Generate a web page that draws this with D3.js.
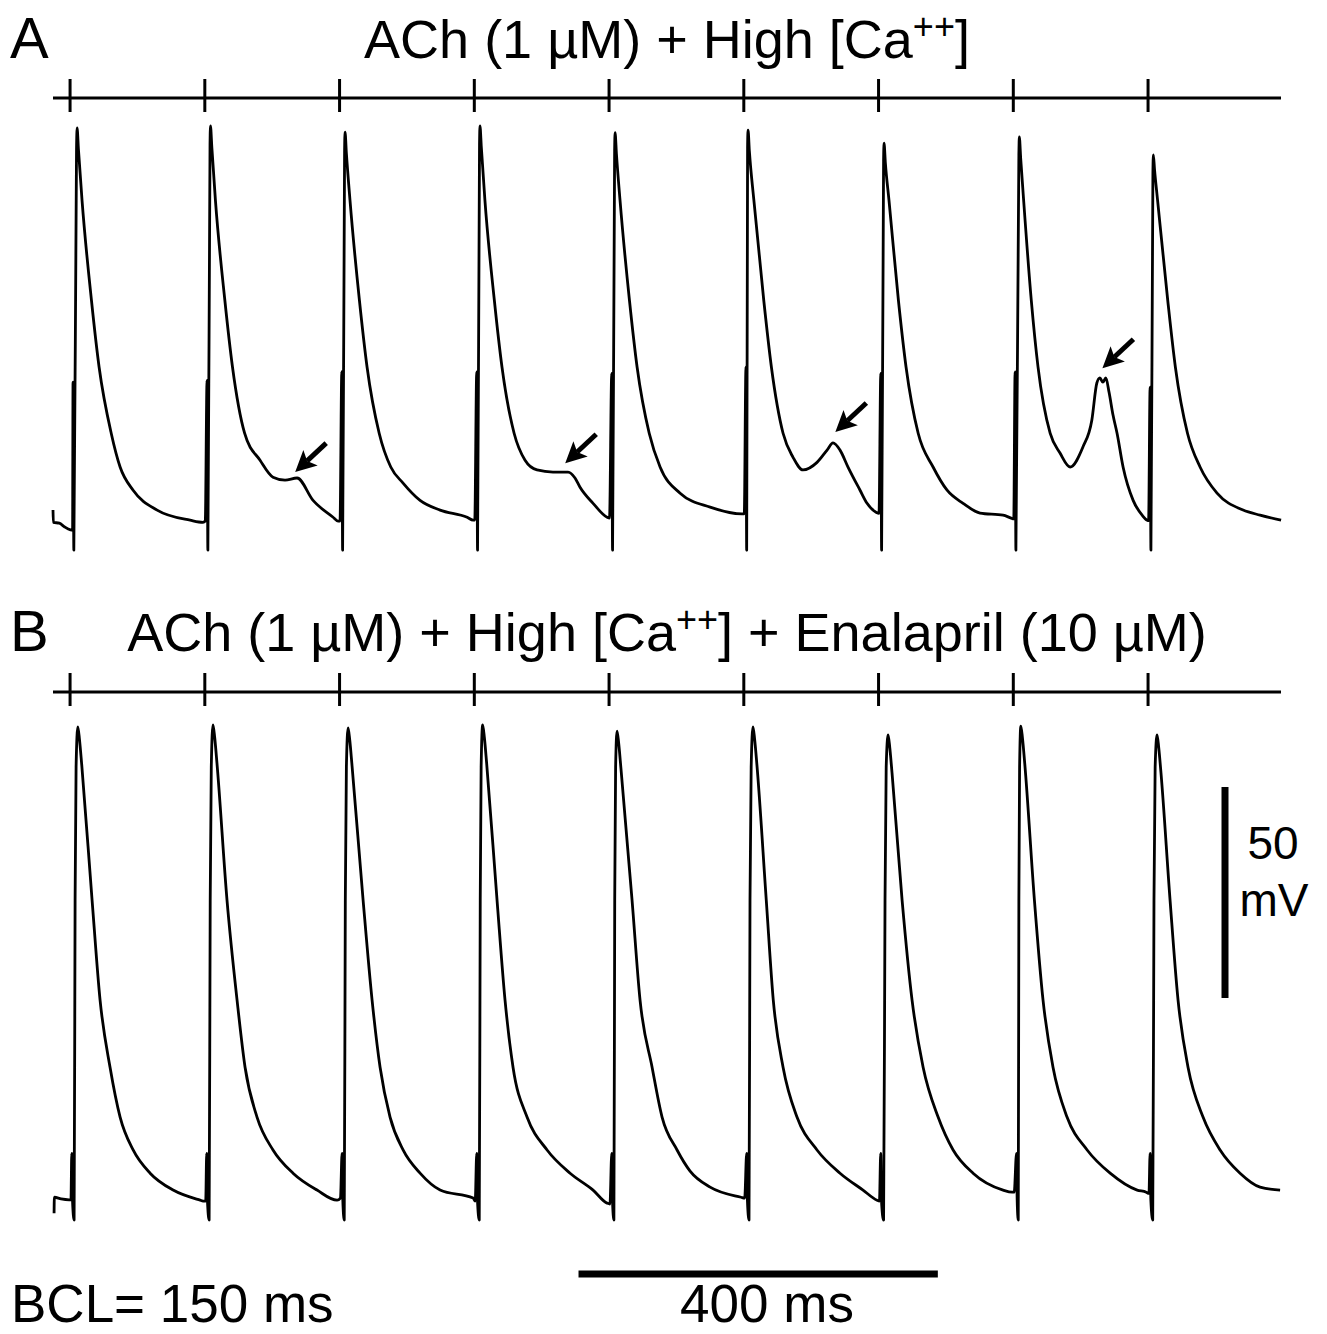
<!DOCTYPE html>
<html>
<head>
<meta charset="utf-8">
<script src="https://cdn.jsdelivr.net/npm/d3@7"></script>
<style>
  html, body { margin: 0; padding: 0; background: #fff; }
  svg { display: block; }
  text { font-family: "Liberation Sans", Arial, Helvetica, sans-serif; fill: #000; }
</style>
</head>
<body>
<svg id="chart" width="1327" height="1334"></svg>
<script>
// ---------------- DATA ----------------
// stimulus times (ms), BCL = 150 ms
const stimTimes = [0, 150, 300, 450, 600, 750, 900, 1050, 1200];
const traceStart = -19, traceEnd = 1348;

// Panel A (ACh + high Ca): [ms after stimulus, mV]
const preA = [[-19,-77.7],[-18.6,-80.6],[-12,-80.8],[-6,-81.7],[0.5,-82.4]];
const beatsA = [
  [[2.8,-82.5],[3.3,-47.4],[4.2,-87.2],[7.2,8],[7.8,12.8],[9.3,7.8],[13.3,-4.3],[23.8,-28],[32.3,-43.8],[45.8,-59.5],[55.7,-67.5],[70.2,-73],[96.9,-77.7],[133.6,-80.1],[148,-80.6]],
  [[0.5,-80.3],[2.5,-47],[3.4,-87.2],[5.8,9],[6.3,13.3],[7.8,8.3],[11.8,-4.3],[22.3,-28],[30.8,-43.8],[44.3,-59.5],[61.5,-65.9],[75.9,-69.9],[89.3,-70.6],[102.7,-70.1],[120.5,-75.4],[142.8,-79.4],[148.3,-80.3]],
  [[0.5,-80.3],[2.5,-44.9],[3.4,-87.2],[5.6,7.5],[6.1,11.8],[7.6,6.8],[11.6,-4.3],[22.1,-28],[30.6,-43.8],[44.1,-59.5],[57,-67.5],[70.7,-71.3],[89.6,-75.4],[111.9,-77.7],[142,-79.4],[148.7,-80.1]],
  [[0.5,-80.1],[2.7,-45],[3.6,-87.2],[5.8,9],[6.3,13.3],[7.8,8.3],[11.8,-4.3],[22.3,-28],[30.8,-43.8],[44.3,-59.5],[56.5,-65.9],[69.8,-68.2],[87.6,-68.7],[104.4,-68.7],[112.1,-70.1],[117.7,-72.3],[132.2,-76.1],[147.8,-79.4]],
  [[0.5,-79.6],[3.0,-45.3],[3.9,-87.2],[6.2,7.5],[6.7,11.7],[8.2,6.7],[12.2,-4.3],[22.7,-28],[31.2,-43.8],[44.7,-59.5],[56.8,-67.5],[79.1,-73.7],[112.5,-77],[148,-78.6]],
  [[0.5,-78.6],[2.4,-43.8],[3.2,-87.2],[4.2,8],[4.7,12.3],[6.2,7.3],[11.2,-4.3],[22.2,-28],[30.7,-43.8],[43.7,-59.5],[54.8,-65.2],[65.9,-68.2],[81.5,-66.4],[92.7,-63.5],[99.3,-61.8],[107.1,-63.5],[116,-67.5],[129.4,-73],[137.2,-76.1],[147.2,-78.2]],
  [[0.5,-78.5],[2.5,-45.3],[3.4,-87.2],[5.6,5],[6.1,9.2],[7.6,4.5],[11.6,-4.3],[22.1,-28],[30.6,-43.8],[44.1,-59.5],[60.7,-67.5],[76.3,-73],[94.1,-76.1],[113,-78.4],[138.6,-78.9],[147.6,-79.6]],
  [[0.5,-79.8],[2.0,-45],[2.9,-87.2],[6.2,6.5],[6.7,10.7],[8.2,5.7],[11.5,-4.3],[20,-28],[27.5,-43.8],[41,-59.5],[52,-64.2],[63.2,-67.5],[77.4,-62.8],[87.4,-56.4],[93,-47.6],[96.4,-46.4],[99.7,-47.4],[103,-46.4],[106.6,-49.8],[111,-55.2],[115.5,-59.5],[122.2,-67.5],[133.4,-75.4],[143.4,-78.9],[149,-80.1]],
  [[0.6,-80.2],[2.3,-48.6],[3.2,-87.2],[5.4,2],[5.9,6.4],[7.2,3.0],[10.6,-4.3],[21.9,-28],[30.4,-43.8],[43.9,-59.5],[57.9,-67.5],[76.8,-73.7],[105.8,-77.7],[124.7,-78.9],[148.1,-80.1]]
];
// arrow tips marking delayed afterdepolarizations in A: [ms, mV]
const dadArrows = [[250.6,-68.7],[551.2,-66.6],[851.9,-59.2],[1149.2,-44.1]];

// Panel B (ACh + high Ca + enalapril): [ms after stimulus, mV]
const preB = [[-17.8,-83.2],[-17.5,-79.4],[-10,-79.8],[-1,-80]];
const beatsB = [
  [[1,-80],[1.9,-69],[2.7,-80],[4.5,-84.8],[5.6,-9],[6.7,22.5],[8.6,32],[10.5,29],[13,23],[24.5,-9],[33.4,-32.7],[44.5,-48.6],[55.7,-60.4],[70.2,-68.2],[89.1,-73.7],[114.7,-77.7],[144.8,-80.1],[148,-80.3]],
  [[1,-80.3],[2.1,-69],[2.9,-80],[4.8,-84.8],[6,-9],[7.2,22.5],[9.1,32.5],[11,29.5],[13.5,23.5],[24.7,-9],[35.9,-32.7],[44.8,-48.6],[58.1,-60.4],[75.9,-68.2],[98.2,-73.7],[124.9,-77.7],[147.2,-80.1]],
  [[1,-79.6],[2.8,-69],[3.6,-80],[5.2,-84.8],[6.4,-9],[7.6,22.5],[9.5,31.8],[11.4,28.8],[13.9,22.8],[26.2,-9],[36.2,-32.7],[45.1,-48.6],[56.2,-60.4],[70.7,-68.2],[89.6,-73.7],[111.9,-77.7],[148.7,-79.6]],
  [[1,-80.3],[2.7,-69],[3.5,-80],[5.5,-84.8],[6.6,-9],[7.6,22.5],[9.3,32.5],[11.2,29.5],[13.7,23.5],[25.3,-9],[34.2,-32.7],[43.1,-48.6],[58.7,-60.4],[81,-68.2],[106.6,-73.7],[132.2,-77.7],[147.8,-80.8]],
  [[1,-81],[3,-69],[3.8,-80],[5.4,-84.8],[6.3,-9],[7.3,22.5],[8.9,31],[10.8,28],[13.3,22],[25.6,-9],[34.5,-32.7],[47.9,-48.6],[59,-60.4],[75.7,-68.2],[90.2,-73.2],[112.5,-77],[147,-79.4]],
  [[1,-79.6],[3.2,-69],[4,-80],[5.8,-84.8],[6.9,-9],[8.2,22.5],[10.2,32],[12.1,29],[14.6,23],[25,-9],[32.8,-32.7],[43.7,-48.6],[59.2,-60.4],[81.5,-68.2],[107.1,-73.7],[132.7,-77.7],[148.3,-80.1]],
  [[1,-80.3],[2.4,-69],[3.2,-80],[5.6,-84.8],[7.2,-9],[8.5,22.5],[10.6,30.1],[12.5,27.1],[15,21.1],[26.2,-9],[37.3,-32.7],[49.6,-48.6],[66.3,-60.4],[83,-68.2],[105.2,-73.7],[138.6,-77.7],[148.7,-78.2]],
  [[1,-78.2],[3.6,-69],[4.3,-80],[5.5,-84.8],[6.2,-9],[7,22.5],[8.4,32.2],[10.3,29.2],[12.8,23.2],[23.5,-9],[33.1,-32.7],[44.2,-48.6],[59.8,-60.4],[82.2,-68.2],[107.8,-73.7],[137.9,-77.7],[148,-78.2]],
  [[1,-78.5],[2.3,-69],[3.1,-80],[5.2,-84.8],[6.6,-9],[7.9,22.5],[10,30.1],[11.9,27.1],[14.4,21.1],[24.5,-9],[33.4,-32.7],[44.5,-48.6],[61.2,-60.4],[80.2,-68.2],[102.4,-73.7],[124.7,-77],[147,-77.7]]
];

// scale bars
const timeBar = { start: 566, length: 400, label: "400 ms" };
const voltBar = { start: -32.2, length: 50, label: ["50", "mV"] };

const titleA = { label: "A", pre: "ACh (1 \u00B5M) + High [Ca", sup: "++", post: "]" };
const titleB = { label: "B", pre: "ACh (1 \u00B5M) + High [Ca", sup: "++", post: "] + Enalapril (10 \u00B5M)" };
const bclLabel = "BCL= 150 ms";

// ---------------- DRAWING ----------------
const svg = d3.select("#chart");
const x = d3.scaleLinear().domain([traceStart, traceEnd]).range([53, 1281]);
const yA = d3.scaleLinear().domain([-90, 20]).range([562, 97.6]);
const yB = d3.scaleLinear().domain([-90, 40]).range([1242, 693.2]);

function buildTrace(pre, beats) {
  const pts = pre.slice();
  beats.forEach((b, i) => b.forEach(p => pts.push([stimTimes[i] + p[0], p[1]])));
  return pts;
}

function drawPanel(pre, beats, y, stimY) {
  // stimulus marker line with ticks
  svg.append("line")
    .attr("x1", x(traceStart)).attr("x2", x(traceEnd))
    .attr("y1", stimY).attr("y2", stimY)
    .attr("stroke", "#000").attr("stroke-width", 3);
  svg.selectAll(null).data(stimTimes).enter().append("line")
    .attr("x1", d => x(d)).attr("x2", d => x(d))
    .attr("y1", stimY - 19).attr("y2", stimY + 14)
    .attr("stroke", "#000").attr("stroke-width", 3);

  const line = d3.line().x(d => x(d[0])).y(d => y(d[1])).curve(d3.curveMonotoneX);
  svg.append("path")
    .datum(buildTrace(pre, beats))
    .attr("d", line)
    .attr("fill", "none").attr("stroke", "#000")
    .attr("stroke-width", 2.8).attr("stroke-linejoin", "round");
}

drawPanel(preA, beatsA, yA, 98);
drawPanel(preB, beatsB, yB, 692);

// arrows
const arrowDX = 31, arrowDY = -29, headL = 21, headW = 10.5;
dadArrows.forEach(a => {
  const tx = x(a[0]), ty = yA(a[1]);
  const len = Math.hypot(arrowDX, arrowDY);
  const ux = -arrowDX / len, uy = -arrowDY / len; // direction tail->tip
  const px = -uy, py = ux;
  const bx = tx - ux * headL, by = ty - uy * headL;
  const nx = tx - ux * headL * 0.78, ny = ty - uy * headL * 0.78;
  svg.append("line")
    .attr("x1", tx + arrowDX).attr("y1", ty + arrowDY)
    .attr("x2", nx).attr("y2", ny)
    .attr("stroke", "#000").attr("stroke-width", 5);
  svg.append("path")
    .attr("d", `M${tx},${ty}L${bx + px * headW},${by + py * headW}L${nx},${ny}L${bx - px * headW},${by - py * headW}Z`)
    .attr("fill", "#000");
});

// titles
function drawTitle(t, labelY) {
  svg.append("text").attr("x", 10).attr("y", labelY).attr("font-size", 58).text(t.label);
  const tx = svg.append("text").attr("x", 667).attr("y", labelY)
    .attr("text-anchor", "middle").attr("font-size", 54);
  tx.append("tspan").text(t.pre);
  tx.append("tspan").attr("font-size", 36).attr("dy", -19).text(t.sup);
  tx.append("tspan").attr("dy", 19).text(t.post);
}
drawTitle(titleA, 58);
drawTitle(titleB, 651);

// time scale bar
svg.append("line")
  .attr("x1", x(timeBar.start)).attr("x2", x(timeBar.start + timeBar.length))
  .attr("y1", 1274).attr("y2", 1274)
  .attr("stroke", "#000").attr("stroke-width", 7);
svg.append("text").attr("x", 767).attr("y", 1322).attr("text-anchor", "middle")
  .attr("font-size", 53).text(timeBar.label);

// voltage scale bar
svg.append("line")
  .attr("x1", 1225).attr("x2", 1225)
  .attr("y1", yB(voltBar.start)).attr("y2", yB(voltBar.start + voltBar.length))
  .attr("stroke", "#000").attr("stroke-width", 7);
svg.append("text").attr("x", 1273).attr("y", 859).attr("text-anchor", "middle")
  .attr("font-size", 46).text(voltBar.label[0]);
svg.append("text").attr("x", 1274).attr("y", 916).attr("text-anchor", "middle")
  .attr("font-size", 46).text(voltBar.label[1]);

svg.append("text").attr("x", 11).attr("y", 1322).attr("font-size", 53).text(bclLabel);
</script>
</body>
</html>
